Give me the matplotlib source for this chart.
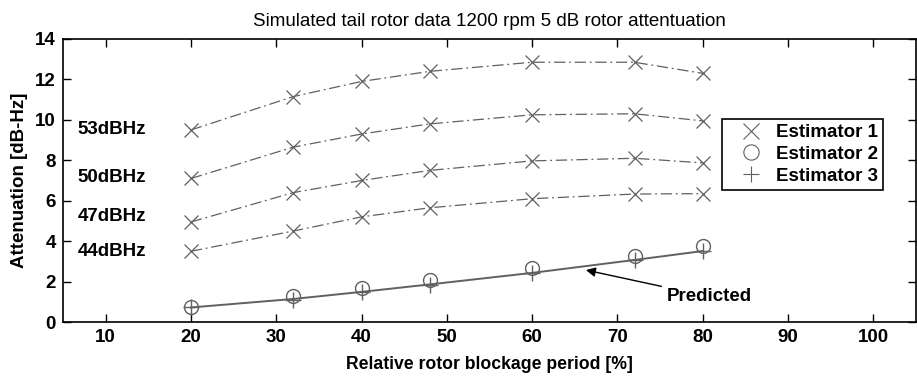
import numpy as np
import matplotlib
matplotlib.use('Agg')
import matplotlib.pyplot as plt

plt.rcParams['font.family'] = ['Liberation Sans', 'DejaVu Sans']

blockage = [20, 32, 40, 48, 60, 72, 80]

# Estimator 1 curves, one per C/N0 level
est1_53 = [9.5, 11.15, 11.9, 12.4, 12.85, 12.85, 12.3]
est1_50 = [7.1, 8.65, 9.3, 9.8, 10.25, 10.3, 9.95]
est1_47 = [4.95, 6.4, 7.0, 7.5, 7.97, 8.1, 7.87]
est1_44 = [3.5, 4.5, 5.2, 5.65, 6.1, 6.33, 6.35]
cn0_labels = ['53dBHz', '50dBHz', '47dBHz', '44dBHz']
cn0_label_y = [9.5, 7.15, 5.2, 3.5]

est2 = [0.75, 1.3, 1.7, 2.08, 2.67, 3.27, 3.76]
est3 = [0.72, 1.1, 1.48, 1.82, 2.42, 3.05, 3.52]
predicted = [0.72, 1.14, 1.49, 1.86, 2.43, 3.07, 3.51]

gray = '#606060'
fs = 13.5

fig = plt.figure(figsize=(9.17, 3.76), dpi=100)
ax = fig.add_axes([0.0687, 0.1436, 0.9302, 0.7527])

for curve in [est1_53, est1_50, est1_47, est1_44]:
    ax.plot(blockage, curve, linestyle='-.', color=gray, linewidth=0.9,
            dashes=(9, 3, 1.5, 3))
    ax.plot(blockage, curve, 'x', color=gray, markersize=10, markeredgewidth=0.9)

ax.plot(blockage, predicted, '-', color=gray, linewidth=1.4)
ax.plot(blockage, est2, 'o', color=gray, markersize=10, markerfacecolor='none',
        markeredgewidth=1.0)
ax.plot(blockage, est3, '+', color=gray, markersize=12, markeredgewidth=1.0)

for lab, yv in zip(cn0_labels, cn0_label_y):
    ax.text(6.7, yv, lab, fontsize=fs, fontweight='bold', va='center', ha='left')

ax.annotate('Predicted', xy=(66.3, 2.57), xytext=(75.8, 1.25),
            fontsize=fs, fontweight='bold', va='center', ha='left',
            arrowprops=dict(arrowstyle='-|>', color='black', lw=1.0,
                            mutation_scale=14, shrinkA=2, shrinkB=0))

# legend with marker-only handles
h1, = ax.plot([], [], 'x', color=gray, markersize=11, markeredgewidth=0.8)
h2, = ax.plot([], [], 'o', color=gray, markersize=11, markerfacecolor='none',
              markeredgewidth=0.8)
h3, = ax.plot([], [], '+', color=gray, markersize=12, markeredgewidth=0.8)
leg = ax.legend([h1, h2, h3], ['Estimator 1', 'Estimator 2', 'Estimator 3'],
                loc='upper left', bbox_to_anchor=(0.7726, 0.717),
                prop={'size': fs, 'weight': 'bold'}, frameon=True,
                fancybox=False, edgecolor='black', framealpha=1,
                handlelength=2.5, handletextpad=0.1, borderpad=0.27,
                labelspacing=0.24, borderaxespad=0)
leg.get_frame().set_linewidth(1.2)

ax.set_xlim(5, 105)
ax.set_ylim(0, 14)
ax.set_xticks(np.arange(10, 101, 10))
ax.set_yticks(np.arange(0, 15, 2))
ax.tick_params(direction='in', top=True, right=True, length=6, width=1,
               labelsize=fs, pad=5)
for lbl in ax.get_xticklabels() + ax.get_yticklabels():
    lbl.set_fontweight('bold')
for sp in ax.spines.values():
    sp.set_linewidth(1.2)

ax.set_xlabel('Relative rotor blockage period [%]', fontsize=12.7, fontweight='bold',
              labelpad=7)
ax.set_ylabel('Attenuation [dB-Hz]', fontsize=fs, fontweight='bold', labelpad=5)
ax.set_title('Simulated tail rotor data 1200 rpm 5 dB rotor attentuation',
             fontsize=13.5, pad=9)

fig.savefig('out.png', dpi=100)
